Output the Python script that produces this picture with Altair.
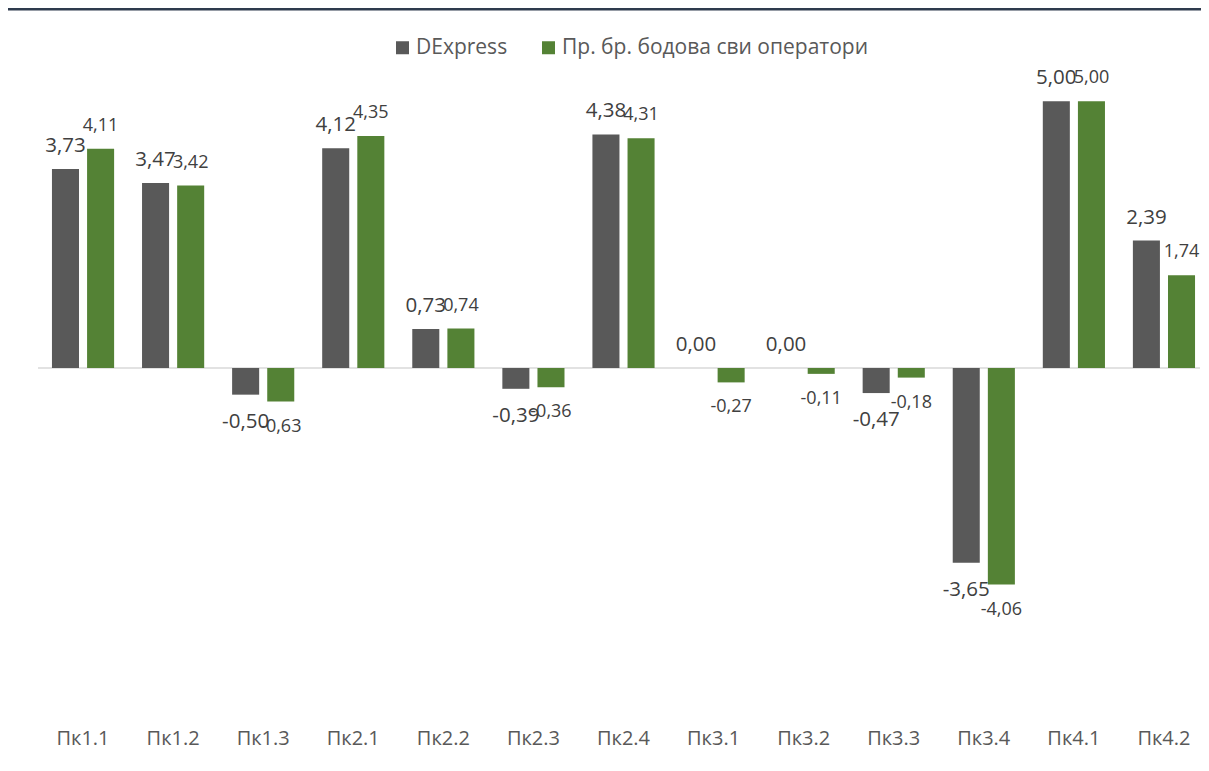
import altair as alt
import pandas as pd

categories = ["Пк1.1", "Пк1.2", "Пк1.3", "Пк2.1", "Пк2.2", "Пк2.3", "Пк2.4",
              "Пк3.1", "Пк3.2", "Пк3.3", "Пк3.4", "Пк4.1", "Пк4.2"]
dexpress = [3.73, 3.47, -0.50, 4.12, 0.73, -0.39, 4.38, 0.00, 0.00, -0.47, -3.65, 5.00, 2.39]
avg_all = [4.11, 3.42, -0.63, 4.35, 0.74, -0.36, 4.31, -0.27, -0.11, -0.18, -4.06, 5.00, 1.74]
series = ["DExpress", "Пр. бр. бодова сви оператори"]
colors = ["#595959", "#548235"]

rows = []
for c, a, b in zip(categories, dexpress, avg_all):
    for s, v in zip(series, (a, b)):
        rows.append({"cat": c, "series": s, "value": v,
                     "label": f"{v:.2f}".replace(".", ",")})
df = pd.DataFrame(rows)

W, H = 1163, 640

x = alt.X("cat:N", sort=categories,
          scale=alt.Scale(range=[0, 1171], paddingInner=0.31, paddingOuter=0.155),
          axis=alt.Axis(title=None, orient="bottom", ticks=False, tickSize=0, domain=False,
                        labelAngle=0, labelFontSize=20, labelFont="Open Sans",
                        labelColor="#595959", labelPadding=8, grid=False))
xo = alt.XOffset("series:N", sort=series,
                 scale=alt.Scale(paddingInner=0.23, paddingOuter=0))
y = alt.Y("value:Q", scale=alt.Scale(domain=[-6.6, 5.4], nice=False, zero=True), axis=None)

base = alt.Chart(df)

top_line = alt.Chart(pd.DataFrame({"a": [0]})).mark_rule(
    color="#2e3b4e", strokeWidth=3).encode(
    x=alt.value(-30), x2=alt.value(1163), y=alt.value(-71))

zero_line = alt.Chart(pd.DataFrame({"value": [0]})).mark_rule(
    color="#d9d9d9", strokeWidth=1.5).encode(
    y=y, x=alt.value(0), x2=alt.value(1162))

bars = base.mark_bar().encode(
    x=x, xOffset=xo, y=y,
    color=alt.Color("series:N", sort=series,
                    scale=alt.Scale(domain=series, range=colors),
                    legend=alt.Legend(title=None, orient="none", legendX=354, legendY=-43,
                                      direction="horizontal", symbolType="square",
                                      symbolSize=169, symbolStrokeWidth=0,
                                      labelFontSize=21, labelFont="Open Sans",
                                      labelColor="#595959", columnPadding=30,
                                      labelOffset=3, labelLimit=0, padding=0)))


def labels(s, pos, size, dy):
    cond = ">=" if pos else "<"
    return base.transform_filter(
        f"datum.series == '{s}' && datum.value {cond} 0"
    ).mark_text(fontSize=size, font="Open Sans", color="#404040",
                dy=dy, baseline="alphabetic").encode(
        x=x, xOffset=xo, y=y, text="label:N")


layers = [
    top_line, zero_line, bars,
    labels(series[0], True, 20.5, -17),
    labels(series[0], False, 20.5, 33),
    labels(series[1], True, 18, -18),
    labels(series[1], False, 18, 30),
]

chart = alt.layer(*layers).properties(
    width=W, height=H,
    autosize=alt.AutoSizeParams(type="none"),
    padding={"left": 30, "top": 72, "right": 0, "bottom": 40},
).configure_view(stroke=None)

chart.save("out.html", embed_options={"renderer": "svg", "actions": False})
